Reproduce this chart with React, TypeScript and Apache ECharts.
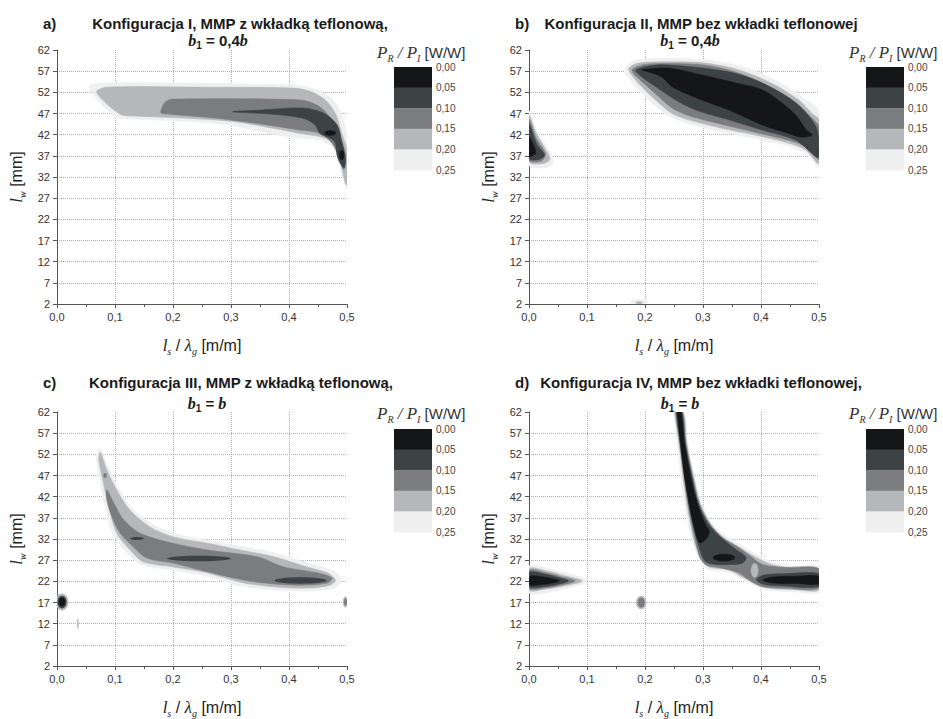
import React, { useEffect, useRef } from 'react';
import * as echarts from 'echarts';

// ---------- levels / legend ----------
const levelColors = ['#efefef', '#b6b7ba', '#7a7c7e', '#3d4244', '#141618'];
const levelLabels = ['0,00', '0,05', '0,10', '0,15', '0,20', '0,25'];

// ---------- axes ----------
const Y_MIN = 2;
const Y_MAX = 62;
const Y_STEP = 5;
const X_MIN = 0;
const X_MAX = 0.5;
const X_STEP = 0.1;

// ---------- panel texts ----------
const panelLetters = ['a)', 'b)', 'c)', 'd)'];
const panelTitles = [
  'Konfiguracja I, MMP z wkładką teflonową,',
  'Konfiguracja II, MMP bez wkładki teflonowej',
  'Konfiguracja III, MMP z wkładką teflonową,',
  'Konfiguracja IV, MMP bez wkładki teflonowej,',
];
const panelSubtitles = ['0,4', '0,4', '', ''];

// ---------- panel a: contour regions [x, l_w] ----------
const aL0 = [[0.055, 53.3], [0.08, 54.2], [0.2, 54.2], [0.35, 53.9], [0.42, 53.5], [0.455, 52.2], [0.48, 49.6], [0.495, 45], [0.5, 41], [0.5, 29.5], [0.49, 33], [0.478, 38.5], [0.455, 40.6], [0.41, 41.3], [0.36, 42.4], [0.3, 44.2], [0.22, 45.2], [0.13, 45.7], [0.1, 46.2]];
const aL1 = [[0.068, 52.0], [0.085, 53.2], [0.25, 53.2], [0.408, 53.0], [0.437, 52.2], [0.4625, 50.2], [0.48, 47.0], [0.491, 42.3], [0.5, 38.4], [0.5, 30.1], [0.497, 30.5], [0.488, 36.0], [0.477, 40.0], [0.454, 41.5], [0.419, 42.3], [0.373, 43.5], [0.304, 45.1], [0.223, 45.9], [0.131, 46.4], [0.108, 46.9]];
const aL2 = [[0.179, 47.2], [0.186, 49.6], [0.2, 50.4], [0.419, 50.2], [0.448, 49.0], [0.468, 46.6], [0.483, 43.1], [0.494, 39.2], [0.498, 36.0], [0.494, 33.8], [0.486, 36.8], [0.474, 40.0], [0.454, 42.3], [0.419, 43.1], [0.362, 44.3], [0.275, 45.9], [0.189, 46.9]];
const aL3 = [[0.303, 47.4], [0.35, 47.8], [0.424, 48.3], [0.459, 47.1], [0.483, 44.3], [0.491, 40.3], [0.497, 36.5], [0.495, 34.1], [0.484, 36.5], [0.479, 40.3], [0.467, 41.4], [0.453, 42.3], [0.445, 44.3], [0.424, 45.9], [0.367, 46.9]];
const aL4a = [0.471, 42.4, 0.01, 0.65];
const aL4b = [0.491, 37.2, 0.0045, 1.2];

// ---------- panel b ----------
const bL0 = [[0.165, 57.5], [0.185, 59.6], [0.25, 60.0], [0.31, 59.6], [0.37, 58], [0.43, 54.5], [0.475, 50.5], [0.5, 47.5], [0.5, 34.3], [0.48, 37.3], [0.45, 39.2], [0.39, 41.1], [0.33, 42.7], [0.27, 44.8], [0.24, 46.5], [0.21, 49.8], [0.18, 54]];
const bL1 = [[0.172, 57.7], [0.189, 58.9], [0.247, 59.2], [0.304, 58.9], [0.362, 57.3], [0.419, 54.1], [0.465, 50.2], [0.488, 47.0], [0.5, 45.5], [0.5, 35.2], [0.477, 38.4], [0.448, 40.0], [0.391, 41.9], [0.333, 43.5], [0.275, 45.5], [0.247, 47.0], [0.218, 50.2], [0.189, 54.1], [0.175, 56.5]];
const bL2 = [[0.178, 57.5], [0.2, 58.6], [0.25, 58.8], [0.31, 58.3], [0.36, 56.6], [0.415, 53.4], [0.46, 49.6], [0.487, 46.0], [0.5, 43.8], [0.5, 36.2], [0.48, 38.9], [0.45, 40.6], [0.395, 42.4], [0.34, 44.2], [0.28, 46.3], [0.25, 48.0], [0.225, 50.8], [0.195, 54.5], [0.18, 56.5]];
const bL3 = [[0.184, 57.3], [0.229, 58.5], [0.345, 56.8], [0.402, 54.2], [0.46, 49.5], [0.495, 43.8], [0.5, 38.4], [0.5, 36.7], [0.495, 36.7], [0.46, 40.7], [0.402, 43.1], [0.345, 45.5], [0.288, 47.8], [0.253, 50.2], [0.219, 53.3], [0.195, 55.6]];
const bL4 = [[0.195, 57.3], [0.241, 57.7], [0.298, 56.1], [0.357, 54.2], [0.402, 52.6], [0.436, 49.5], [0.46, 46.6], [0.478, 43.1], [0.488, 41.9], [0.47, 41.4], [0.448, 42.3], [0.402, 44.3], [0.345, 47.8], [0.288, 50.7], [0.247, 53.3], [0.229, 55.6], [0.207, 56.8]];
const bTriL0 = [[0, 47.5], [0.015, 42.5], [0.04, 37], [0.04, 35], [0.025, 34.2], [0, 34.8]];
const bTriL1 = [[0, 46.5], [0.012, 42.5], [0.03, 38.2], [0.036, 36.2], [0.025, 35.2], [0, 35.6]];
const bTriL2 = [[0, 45.5], [0.013, 41], [0.028, 37.6], [0.022, 35.8], [0, 36]];
const bTriL3 = [[0, 44.5], [0.014, 39.6], [0.027, 37.2], [0.018, 36.2], [0, 36.4]];
const bTriL4 = [[0, 41.5], [0.012, 37.8], [0.004, 36.9], [0, 37.0]];
const bSpotL0 = [0.19, 2.5, 0.015, 0.6];
const bSpotL1 = [0.19, 2.3, 0.006, 0.3];

// ---------- panel c ----------
const cL0 = [[0.073, 53.5], [0.09, 48.5], [0.107, 43.8], [0.13, 39.2], [0.165, 35.4], [0.205, 33.2], [0.26, 31.7], [0.32, 30.2], [0.38, 28.6], [0.435, 26.2], [0.475, 24.6], [0.49, 22.3], [0.478, 20.4], [0.43, 19.7], [0.37, 20.0], [0.31, 21.1], [0.255, 23.3], [0.2, 24.7], [0.145, 25.9], [0.12, 28.8], [0.097, 33], [0.083, 39.5], [0.075, 45.3], [0.068, 51]];
const cL1 = [[0.0747, 52.5], [0.086, 48.3], [0.103, 43.6], [0.126, 38.8], [0.161, 34.8], [0.201, 32.5], [0.259, 31.0], [0.316, 29.4], [0.374, 27.8], [0.431, 25.4], [0.466, 24.0], [0.48, 22.3], [0.471, 21.1], [0.431, 20.4], [0.374, 20.7], [0.316, 21.8], [0.259, 24.0], [0.201, 25.4], [0.149, 26.6], [0.126, 29.4], [0.103, 33.4], [0.089, 39.6], [0.08, 45.2], [0.072, 50.7]];
const cL2 = [[0.086, 43.6], [0.098, 40.5], [0.115, 36.5], [0.143, 33.4], [0.19, 31.3], [0.259, 29.4], [0.345, 27.8], [0.391, 25.4], [0.448, 24.0], [0.474, 22.8], [0.466, 21.6], [0.414, 21.1], [0.345, 21.8], [0.305, 22.8], [0.247, 24.7], [0.201, 26.3], [0.155, 27.5], [0.132, 30.1], [0.109, 33.4], [0.095, 37.2], [0.086, 41.2]];
const cDotL2 = [0.083, 47.0, 0.003, 0.6];
const cL3a = [0.138, 32.1, 0.012, 0.35];
const cL3b = [0.245, 27.4, 0.055, 0.65];
const cL3c = [0.42, 22.2, 0.045, 0.75];
const cSpotLeft = [[1, 0.0086, 17.1, 0.011, 2.0], [3, 0.0086, 17.1, 0.008, 1.5], [4, 0.0086, 17.1, 0.0055, 1.0]];
const cSpotRight = [[1, 0.497, 17.1, 0.004, 1.3], [2, 0.4975, 17.1, 0.0025, 0.9]];
const cLine = [0.036, 12.0, 0.0015, 1.3];

// ---------- panel d ----------
const dL0 = [[0.25, 62.5], [0.268, 61.5], [0.274, 54.7], [0.286, 46.6], [0.297, 40.5], [0.314, 36], [0.336, 33], [0.365, 30.6], [0.394, 28.2], [0.423, 26.4], [0.46, 25.6], [0.5, 25.4], [0.5, 19.5], [0.46, 19.5], [0.412, 19.9], [0.388, 21.1], [0.365, 22.6], [0.342, 24.2], [0.307, 24.9], [0.295, 26.7], [0.283, 30.8], [0.272, 37.2], [0.263, 45.2], [0.256, 54.7], [0.249, 61.7]];
const dL1 = [[0.252, 62.5], [0.266, 62], [0.272, 54.7], [0.284, 46.6], [0.295, 40.5], [0.312, 35.8], [0.334, 32.5], [0.362, 30.1], [0.391, 27.7], [0.42, 25.9], [0.46, 25.1], [0.5, 24.9], [0.5, 20.0], [0.46, 20.0], [0.414, 20.4], [0.391, 21.6], [0.368, 23.0], [0.345, 24.7], [0.31, 25.4], [0.299, 27.0], [0.286, 31.0], [0.276, 37.2], [0.267, 45.2], [0.2585, 54.7], [0.2515, 61.5]];
const dL2 = [[0.2535, 62.5], [0.265, 62], [0.2705, 54.7], [0.2825, 46.6], [0.2935, 40.5], [0.3105, 35.8], [0.332, 32.5], [0.36, 30.1], [0.382, 27.9], [0.402, 26.0], [0.437, 25.3], [0.5, 25.0], [0.5, 20.4], [0.437, 20.4], [0.402, 20.7], [0.379, 22.3], [0.362, 24.0], [0.333, 25.1], [0.305, 25.9], [0.294, 27.8], [0.2875, 31.2], [0.2775, 37.6], [0.2685, 45.4], [0.26, 54.7], [0.253, 61.5]];
const dJunctionL1 = [0.389, 24.6, 0.0065, 1.7];
const dL3Stem = [[0.255, 62.5], [0.2635, 62], [0.2695, 54.7], [0.281, 46.6], [0.2915, 40.5], [0.308, 35.8], [0.33, 32.5], [0.356, 29.6], [0.374, 27.7], [0.368, 26.3], [0.345, 26.0], [0.322, 26.0], [0.305, 26.6], [0.297, 28.5], [0.2895, 31.8], [0.279, 37.8], [0.2695, 45.6], [0.2605, 54.7], [0.2545, 61.5]];
const dL3Band = [[0.392, 22.4], [0.405, 23.5], [0.44, 23.8], [0.5, 23.8], [0.5, 20.8], [0.44, 20.9], [0.405, 21.3]];
const dL4Stem = [[0.256, 62.5], [0.262, 62], [0.268, 54.7], [0.279, 46.6], [0.29, 40.5], [0.303, 35.8], [0.311, 33.6], [0.302, 31.5], [0.293, 31.2], [0.283, 35.8], [0.276, 40.5], [0.2685, 46.6], [0.2615, 54.7], [0.2565, 61]];
const dL4Blob = [0.336, 27.6, 0.019, 0.85];
const dL4Band = [[0.403, 22.3], [0.42, 23.0], [0.46, 23.2], [0.5, 23.2], [0.5, 21.4], [0.46, 21.5], [0.42, 21.6]];
const dLeftL0 = [[0, 25.6], [0.04, 24.8], [0.1, 22.1], [0.04, 19.6], [0, 19.3]];
const dLeftL1 = [[0, 25.0], [0.03, 24.5], [0.06, 23.4], [0.092, 22.1], [0.06, 20.9], [0.03, 20.2], [0, 19.9]];
const dLeftL2 = [[0, 24.6], [0.03, 24.0], [0.055, 23.1], [0.08, 22.1], [0.055, 21.1], [0.03, 20.5], [0, 20.3]];
const dLeftL3 = [[0, 24.1], [0.03, 23.6], [0.05, 22.9], [0.068, 22.1], [0.05, 21.3], [0.03, 20.8], [0, 20.7]];
const dLeftL4 = [[0.002, 23.2], [0.025, 23.0], [0.04, 22.6], [0.052, 22.1], [0.04, 21.6], [0.025, 21.3], [0.002, 21.1]];
const dSpotL1 = [0.1935, 17.0, 0.009, 1.6];
const dSpotL2 = [0.1935, 17.0, 0.006, 1.2];

type Shape = { level: number; poly?: number[][]; ell?: number[] };
const P = (level: number, poly: number[][]): Shape => ({ level, poly });
const E = (level: number, ell: number[]): Shape => ({ level, ell });

const panelShapes: Shape[][] = [
  [P(0, aL0), P(1, aL1), P(2, aL2), P(3, aL3), E(4, aL4a), E(4, aL4b)],
  [
    P(0, bL0), P(0, bTriL0), E(0, bSpotL0),
    P(1, bL1), P(1, bTriL1), E(1, bSpotL1),
    P(2, bL2), P(2, bTriL2),
    P(3, bL3), P(3, bTriL3),
    P(4, bL4), P(4, bTriL4),
  ],
  [
    P(0, cL0), P(1, cL1), P(2, cL2), E(2, cDotL2),
    E(3, cL3a), E(3, cL3b), E(3, cL3c),
    ...cSpotLeft.map((s) => E(s[0], s.slice(1))),
    ...cSpotRight.map((s) => E(s[0], s.slice(1))),
    E(1, cLine),
  ],
  [
    P(0, dL0), P(0, dLeftL0),
    P(1, dL1), P(1, dLeftL1), E(1, dSpotL1),
    P(2, dL2), P(2, dLeftL2), E(2, dSpotL2),
    E(1, dJunctionL1),
    P(3, dL3Stem), P(3, dL3Band), P(3, dLeftL3),
    P(4, dL4Stem), E(4, dL4Blob), P(4, dL4Band), P(4, dLeftL4),
  ],
];

// ---------- layout ----------
const grids = [
  { left: 57, top: 50 },
  { left: 529, top: 50 },
  { left: 57, top: 412 },
  { left: 529, top: 412 },
];
const GRID_W = 290;
const GRID_H = 254;

const SANS = '"Liberation Sans", Arial, Helvetica, sans-serif';
const SERIF = '"Liberation Serif", "Times New Roman", serif';

function App() {
  const ref = useRef<HTMLDivElement>(null);

  useEffect(() => {
    if (!ref.current) return;
    const chart = echarts.init(ref.current, null, { renderer: 'svg' });

    const xFmt = (v: number) => v.toFixed(1).replace('.', ',');
    const yFmt = (v: number) => String(Math.round(v + Y_MIN));

    const axisNameRich = {
      i: { fontFamily: SERIF, fontStyle: 'italic', fontSize: 17, lineHeight: 22, color: '#222' },
      s: { fontFamily: SERIF, fontStyle: 'italic', fontSize: 10, lineHeight: 9, verticalAlign: 'bottom', color: '#222' },
      n: { fontFamily: SANS, fontSize: 16, lineHeight: 22, color: '#222' },
    };

    const xAxes = grids.map((_, i) => ({
      type: 'value',
      gridIndex: i,
      min: X_MIN,
      max: X_MAX,
      interval: X_STEP,
      axisLine: { show: true, lineStyle: { color: '#555', width: 1 } },
      axisTick: { show: true, length: 4, lineStyle: { color: '#555' } },
      minorTick: { show: true, splitNumber: 2, length: 3, lineStyle: { color: '#555' } },
      axisLabel: { formatter: xFmt, fontSize: 11, color: '#333', fontFamily: SANS, margin: 7 },
      splitLine: {
        show: true,
        showMinLine: false,
        showMaxLine: false,
        lineStyle: { type: 'dotted', color: '#b0b0b0', width: 1 },
      },
      name: '{i|l}{s|s}{n| / }{i|λ}{s|g}{n| [m/m]}',
      nameLocation: 'middle',
      nameGap: 30,
      nameTextStyle: { rich: axisNameRich },
    }));

    const yAxes = grids.map((_, i) => ({
      type: 'value',
      gridIndex: i,
      min: 0,
      max: Y_MAX - Y_MIN,
      interval: Y_STEP,
      axisLine: { show: true, lineStyle: { color: '#555', width: 1 } },
      axisTick: { show: true, length: 4, lineStyle: { color: '#555' } },
      axisLabel: { formatter: yFmt, fontSize: 11, color: '#333', fontFamily: SANS, margin: 7 },
      splitLine: {
        show: true,
        showMinLine: false,
        showMaxLine: false,
        lineStyle: { type: 'dotted', color: '#b0b0b0', width: 1 },
      },
      name: '{i|l}{s|w}{n| [mm]}',
      nameLocation: 'middle',
      nameGap: 30,
      nameTextStyle: { rich: axisNameRich },
    }));

    const series = panelShapes.map((shapes, i) => ({
      type: 'custom',
      xAxisIndex: i,
      yAxisIndex: i,
      clip: true,
      silent: true,
      data: shapes.map((s) => {
        const a = s.poly ? s.poly[0] : s.ell!;
        return [a[0], a[1] - Y_MIN];
      }),
      renderItem: (params: any, api: any) => {
        const s = shapes[params.dataIndex];
        const fill = levelColors[s.level];
        if (s.poly) {
          const points = s.poly.map((p) => api.coord([p[0], p[1] - Y_MIN]));
          return {
            type: 'polygon',
            shape: { points, smooth: 0.3 },
            style: { fill, stroke: fill, lineWidth: 0.6 },
          };
        }
        const [cx, cy, rx, ry] = s.ell!;
        const c = api.coord([cx, cy - Y_MIN]);
        const sz = api.size([rx, ry], [cx, cy - Y_MIN]);
        return {
          type: 'ellipse',
          shape: { cx: c[0], cy: c[1], rx: sz[0], ry: sz[1] },
          style: { fill },
        };
      },
    }));

    // ---------- graphics: titles and legends ----------
    const graphics: any[] = [];
    const titleRich = {
      t: { fontFamily: SANS, fontWeight: 'bold', fontSize: 15, fill: '#1a1a1a', lineHeight: 20 },
      b: { fontFamily: SERIF, fontWeight: 'bold', fontStyle: 'italic', fontSize: 16, fill: '#1a1a1a', lineHeight: 20 },
      s: { fontFamily: SANS, fontWeight: 'bold', fontSize: 10, fill: '#1a1a1a', lineHeight: 9, verticalAlign: 'bottom' },
    };
    const titleCenters = [
      { letterX: 43, x1: 240, x2: 218, y1: 23, y2: 40 },
      { letterX: 515, x1: 701, x2: 690, y1: 23, y2: 40 },
      { letterX: 43, x1: 241, x2: 207, y1: 382, y2: 403 },
      { letterX: 515, x1: 701, x2: 680, y1: 382, y2: 403 },
    ];
    titleCenters.forEach((tc, i) => {
      graphics.push({
        type: 'text', x: tc.letterX, y: tc.y1,
        style: { text: panelLetters[i], font: `bold 15px ${SANS}`, fill: '#1a1a1a', align: 'left', verticalAlign: 'middle' },
      });
      graphics.push({
        type: 'text', x: tc.x1, y: tc.y1,
        style: { text: `{t|${panelTitles[i]}}`, rich: titleRich, align: 'center', verticalAlign: 'middle' },
      });
      const sub = panelSubtitles[i];
      graphics.push({
        type: 'text', x: tc.x2, y: tc.y2,
        style: {
          text: sub ? `{b|b}{s|1}{t| = ${sub}}{b|b}` : `{b|b}{s|1}{t| = }{b|b}`,
          rich: titleRich, align: 'center', verticalAlign: 'middle',
        },
      });
    });

    const legendRich = {
      p: { fontFamily: SERIF, fontStyle: 'italic', fontSize: 17, fill: '#333', lineHeight: 22 },
      s: { fontFamily: SERIF, fontStyle: 'italic', fontSize: 10, fill: '#333', lineHeight: 9, verticalAlign: 'bottom' },
      u: { fontFamily: SANS, fontSize: 15, fill: '#333', lineHeight: 22 },
    };
    const legendBoxes = [
      { x: 394, y: 67, tx: 377, ty: 52 },
      { x: 866, y: 67, tx: 849, ty: 52 },
      { x: 394, y: 429, tx: 377, ty: 413 },
      { x: 866, y: 429, tx: 849, ty: 413 },
    ];
    const BOX_W = 38;
    const BOX_H = 20.6;
    legendBoxes.forEach((lb) => {
      graphics.push({
        type: 'text', x: lb.tx, y: lb.ty,
        style: { text: '{p|P}{s|R}{p| / P}{s|I}{u| [W/W]}', rich: legendRich, align: 'left', verticalAlign: 'middle' },
      });
      for (let k = 0; k < levelColors.length; k++) {
        const lvl = levelColors.length - 1 - k;
        graphics.push({
          type: 'rect',
          shape: { x: lb.x, y: lb.y + k * BOX_H, width: BOX_W, height: BOX_H + 0.3 },
          style: { fill: levelColors[lvl] },
        });
      }
      levelLabels.forEach((lab, k) => {
        graphics.push({
          type: 'text', x: lb.x + BOX_W + 4, y: lb.y + k * BOX_H,
          style: { text: lab, font: `10px ${SANS}`, fill: '#444', align: 'left', verticalAlign: 'middle' },
        });
      });
    });

    chart.setOption({
      animation: false,
      backgroundColor: '#ffffff',
      grid: grids.map((g) => ({ left: g.left, top: g.top, width: GRID_W, height: GRID_H })),
      xAxis: xAxes,
      yAxis: yAxes,
      series,
      graphic: graphics,
    } as any);

    return () => chart.dispose();
  }, []);

  return (
    <div
      ref={ref}
      style={{ position: 'fixed', left: 0, top: 0, width: 943, height: 719, background: '#fff' }}
    />
  );
}

export default App;
